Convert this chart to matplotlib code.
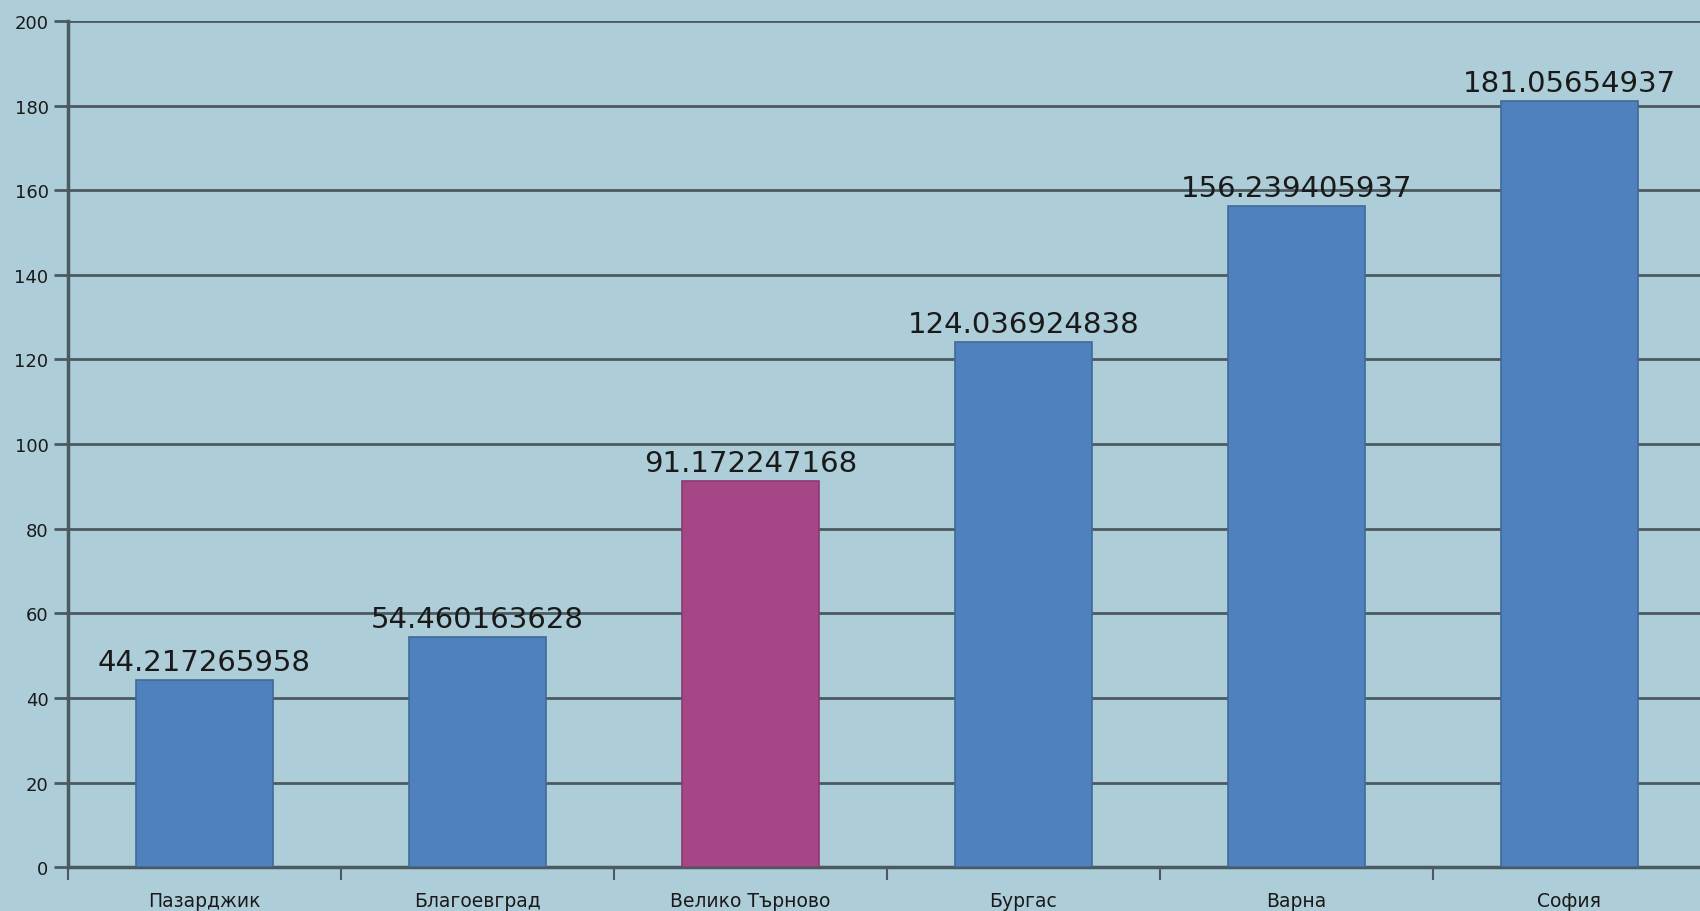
import matplotlib.pyplot as plt
import numpy as np

cities = ["Пазарджик", "Благоевград", "Велико Търново", "Бургас", "Варна", "София"]
values = [44.217265958, 54.460163628, 91.172247168, 124.036924838, 156.239405937, 181.05654937]
labels = ["44.217265958", "54.460163628", "91.172247168", "124.036924838", "156.239405937", "181.05654937"]
highlight = "Велико Търново"

bg = "#adcdd8"
blue = "#4f81bd"
pink = "#a64686"
grid = "#4b5a60"

fig = plt.figure(figsize=(17, 9.12), dpi=100, facecolor=bg)
ax = fig.add_axes([0.04, 0.048, 0.9635, 0.928])
ax.set_facecolor(bg)

x = np.arange(len(cities))
colors = [pink if c == highlight else blue for c in cities]
bars = ax.bar(x, values, width=0.5, color=colors, edgecolor="#3f6a9a", linewidth=1.2, zorder=3)
bars[cities.index(highlight)].set_edgecolor("#8a3a70")

for xi, v, lab in zip(x, values, labels):
    ax.text(xi, v + 1.0, lab, ha="center", va="bottom", fontsize=21, color="#1a1a1a", zorder=4)

ax.set_xlim(-0.5, 5.5)
ax.set_ylim(0, 200)
ax.set_yticks(np.arange(0, 201, 20))
ax.yaxis.grid(True, color=grid, linewidth=2, zorder=1)
ax.set_axisbelow(True)

# category boundaries get the tick marks, names sit in between
ax.set_xticks(np.arange(-0.5, 5.6, 1))
ax.set_xticklabels([])
ax.set_xticks(x, minor=True)
ax.set_xticklabels(cities, minor=True, fontsize=13.5, color="#1a1a1a")
ax.tick_params(axis="x", which="major", length=9, width=1.5, color=grid, direction="out")
ax.tick_params(axis="x", which="minor", length=0, pad=17)
ax.tick_params(axis="y", length=10, width=2, color=grid, labelsize=13, labelcolor="#1a1a1a", pad=4)

for s in ["top", "right"]:
    ax.spines[s].set_visible(False)
ax.spines["left"].set_color(grid)
ax.spines["left"].set_linewidth(2.5)
ax.spines["bottom"].set_color(grid)
ax.spines["bottom"].set_linewidth(2.5)

fig.savefig("out.png", dpi=100, facecolor=bg)
